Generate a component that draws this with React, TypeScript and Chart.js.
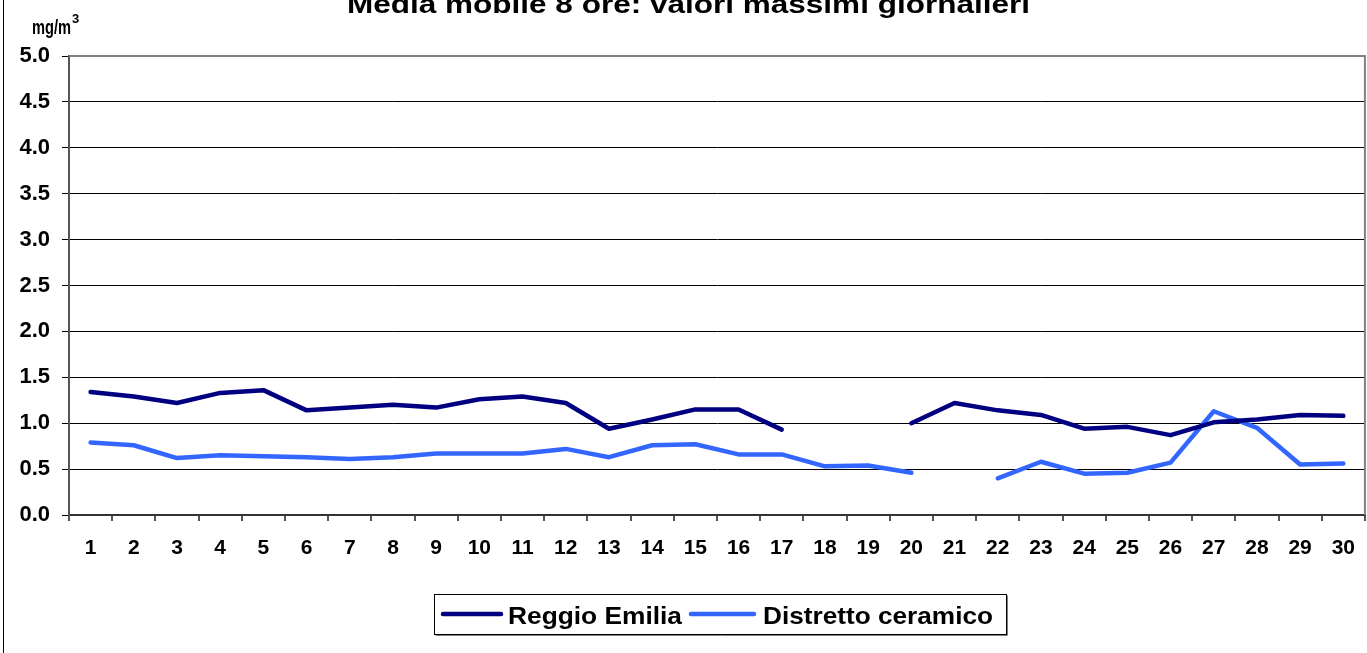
import React, { useEffect, useRef } from "react";
import { Chart, registerables } from "chart.js";

Chart.register(...registerables);

const categories = ["1","2","3","4","5","6","7","8","9","10","11","12","13","14","15","16","17","18","19","20","21","22","23","24","25","26","27","28","29","30"];
const reggioEmilia: (number | null)[] = [1.34,1.29,1.22,1.33,1.36,1.14,1.17,1.2,1.17,1.26,1.29,1.22,0.94,1.04,1.15,1.15,0.93,null,null,1.0,1.22,1.14,1.09,0.94,0.96,0.87,1.01,1.04,1.09,1.08];
const distrettoCeramico: (number | null)[] = [0.79,0.76,0.62,0.65,0.64,0.63,0.61,0.63,0.67,0.67,0.67,0.72,0.63,0.76,0.77,0.66,0.66,0.53,0.54,0.46,null,0.4,0.58,0.45,0.46,0.57,1.13,0.95,0.55,0.56];
const seriesNames = ["Reggio Emilia", "Distretto ceramico"];
const seriesColors = ["#000080", "#3366FF"];
const titleText = "Media mobile 8 ore: valori massimi giornalieri";
const unitText = "mg/m";
const unitSup = "3";

const FONT = "'Liberation Sans', Arial, sans-serif";
const CANVAS_W = 1370;

const decorPlugin = {
  id: "decor",
  afterDraw(chart: any) {
    const ctx = chart.ctx as CanvasRenderingContext2D;
    const a = chart.chartArea;
    ctx.save();
    // plot area top and right border (gray)
    ctx.strokeStyle = "#808080";
    ctx.lineWidth = 2;
    ctx.beginPath();
    ctx.moveTo(a.left, a.top);
    ctx.lineTo(a.right, a.top);
    ctx.lineTo(a.right, a.bottom);
    ctx.stroke();
    // outer frame (left edge visible)
    ctx.strokeStyle = "#000";
    ctx.lineWidth = 1;
    ctx.strokeRect(3.5, -10, 1400, 700);
    // title
    ctx.fillStyle = "#000";
    ctx.textBaseline = "alphabetic";
    ctx.textAlign = "left";
    ctx.font = `bold 26px ${FONT}`;
    const tw = ctx.measureText(titleText).width;
    ctx.save();
    ctx.translate(347, 13);
    ctx.scale(683 / tw, 1);
    ctx.fillText(titleText, 0, 0);
    ctx.restore();
    // unit label
    ctx.font = `bold 20px ${FONT}`;
    const uw = ctx.measureText(unitText).width;
    ctx.save();
    ctx.translate(32, 34);
    ctx.scale(39 / uw, 1);
    ctx.fillText(unitText, 0, 0);
    ctx.restore();
    ctx.font = `bold 13px ${FONT}`;
    ctx.fillText(unitSup, 72, 23);
    // legend
    ctx.fillStyle = "#fff";
    ctx.fillRect(434.5, 594.5, 572, 40);
    ctx.strokeStyle = "#808080";
    ctx.lineWidth = 1;
    ctx.beginPath();
    ctx.moveTo(435.5, 635.5);
    ctx.lineTo(1007.5, 635.5);
    ctx.lineTo(1007.5, 595.5);
    ctx.stroke();
    ctx.strokeStyle = "#000";
    ctx.strokeRect(434.5, 594.5, 572, 40);
    const items = [
      { x1: 443, x2: 501, tx: 508, tw: 174 },
      { x1: 691, x2: 754, tx: 763, tw: 230 },
    ];
    items.forEach((it, i) => {
      ctx.strokeStyle = seriesColors[i];
      ctx.lineWidth = 4.5;
      ctx.lineCap = "round";
      ctx.beginPath();
      ctx.moveTo(it.x1, 614);
      ctx.lineTo(it.x2, 614);
      ctx.stroke();
      ctx.fillStyle = "#000";
      ctx.font = `bold 24px ${FONT}`;
      const w = ctx.measureText(seriesNames[i]).width;
      ctx.save();
      ctx.translate(it.tx, 624);
      ctx.scale(it.tw / w, 1);
      ctx.fillText(seriesNames[i], 0, 0);
      ctx.restore();
    });
    ctx.restore();
  },
};

export default function App() {
  const ref = useRef<HTMLCanvasElement | null>(null);
  useEffect(() => {
    if (!ref.current) return;
    const chart = new Chart(ref.current, {
      type: "line",
      data: {
        labels: categories,
        datasets: [
          {
            label: seriesNames[0],
            data: reggioEmilia,
            borderColor: seriesColors[0],
            backgroundColor: seriesColors[0],
            borderWidth: 4.5,
            pointRadius: 0,
            borderCapStyle: "round",
            borderJoinStyle: "round",
            spanGaps: false,
          },
          {
            label: seriesNames[1],
            data: distrettoCeramico,
            borderColor: seriesColors[1],
            backgroundColor: seriesColors[1],
            borderWidth: 4.5,
            pointRadius: 0,
            borderCapStyle: "round",
            borderJoinStyle: "round",
            spanGaps: false,
          },
        ],
      },
      options: {
        animation: false,
        responsive: false,
        maintainAspectRatio: false,
        layout: { padding: { top: 56, right: 0, left: 0, bottom: 0 } },
        plugins: {
          legend: { display: false },
          title: { display: false },
          tooltip: { enabled: false },
        },
        scales: {
          x: {
            offset: true,
            grid: {
              offset: true,
              drawOnChartArea: false,
              drawTicks: true,
              tickLength: 6,
              tickColor: "#555",
              lineWidth: 2,
            },
            border: { color: "#333", width: 2 },
            ticks: {
              color: "#000",
              font: { family: FONT, size: 21, weight: "bold" },
              padding: 15,
              maxRotation: 0,
              autoSkip: false,
            },
            afterFit(scale: any) {
              scale.height = 138;
            },
          },
          y: {
            min: 0,
            max: 5,
            ticks: {
              stepSize: 0.5,
              color: "#000",
              font: { family: FONT, size: 22, weight: "bold" },
              padding: 12,
              callback: (v: any) => Number(v).toFixed(1),
            },
            grid: {
              color: (c: any) => (c.tick && c.tick.value === 5 ? "rgba(0,0,0,0)" : "#000"),
              lineWidth: 1,
              tickLength: 7,
              tickColor: "#000",
            },
            border: { color: "#555", width: 2 },
            afterFit(scale: any) {
              scale.width = 69;
            },
          },
        },
      },
      plugins: [decorPlugin],
    } as any);
    return () => chart.destroy();
  }, []);
  return (
    <div style={{ position: "fixed", left: 0, top: 0, width: 1367, height: 653, background: "#fff", overflow: "hidden" }}>
      <canvas ref={ref} width={CANVAS_W} height={653} style={{ width: CANVAS_W, height: 653, display: "block" }} />
    </div>
  );
}
